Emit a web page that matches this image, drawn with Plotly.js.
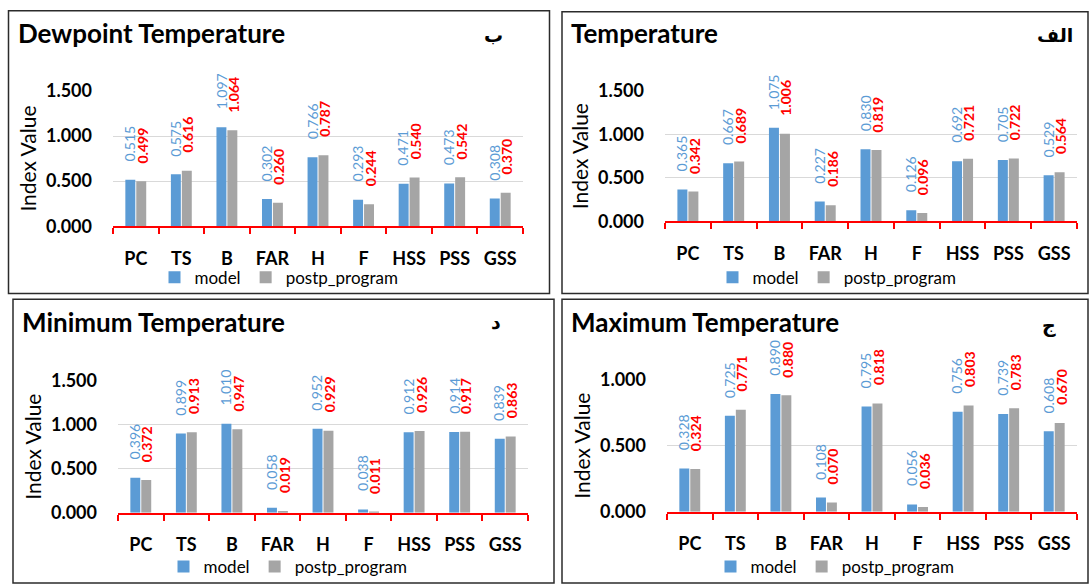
<!DOCTYPE html>
<html><head><meta charset="utf-8">
<script src="https://cdn.plot.ly/plotly-3.0.1.min.js"></script>
<style>html,body{margin:0;padding:0;background:#fff}#chart{width:1092px;height:585px}</style>
</head><body><div id="chart"></div>
<script>
// ---------- data ----------
const categories = ['PC','TS','B','FAR','H','F','HSS','PSS','GSS'];
const seriesNames = ['model','postp_program'];

const dewpointModel = [0.515,0.575,1.097,0.302,0.766,0.293,0.471,0.473,0.308];
const dewpointPost  = [0.499,0.616,1.064,0.260,0.787,0.244,0.540,0.542,0.370];

const temperatureModel = [0.365,0.667,1.075,0.227,0.830,0.126,0.692,0.705,0.529];
const temperaturePost  = [0.342,0.689,1.006,0.186,0.819,0.096,0.721,0.722,0.564];

const minTempModel = [0.396,0.899,1.010,0.058,0.952,0.038,0.912,0.914,0.839];
const minTempPost  = [0.372,0.913,0.947,0.019,0.929,0.011,0.926,0.917,0.863];

const maxTempModel = [0.328,0.725,0.890,0.108,0.795,0.056,0.756,0.739,0.608];
const maxTempPost  = [0.324,0.771,0.880,0.070,0.818,0.036,0.803,0.783,0.670];

const panelTitles  = ['Dewpoint Temperature','Temperature','Minimum Temperature','Maximum Temperature'];
const panelLetters = ['ب','الف','د','ج'];
const yAxisTitle = 'Index Value';

// ---------- layout helpers ----------
const W = 1092, H = 585;
const X = v => v / W, Y = v => 1 - v / H;
const BLUE = '#5B9BD5', GRAY = '#A5A5A5', RED = '#FF0000';
const FONT = 'Lato, "Open Sans", sans-serif';

const panels = [
  {model: dewpointModel, post: dewpointPost, ymax: 1.5,
   box: [8.5, 11, 549.5, 297], plot: [113, 523, 229, 92],
   titlePos: [16, 33], letterPos: [505, 35], legendPos: [279, 281]},
  {model: temperatureModel, post: temperaturePost, ymax: 1.5,
   box: [562, 12, 1088, 297], plot: [665, 1077, 224, 92],
   titlePos: [569, 33], letterPos: [1075, 35], legendPos: [837, 281]},
  {model: minTempModel, post: minTempPost, ymax: 1.5,
   box: [13, 303, 554, 590], plot: [118, 528, 519, 385],
   titlePos: [20, 326], letterPos: [503, 326], legendPos: [288, 574]},
  {model: maxTempModel, post: maxTempPost, ymax: 1.0,
   box: [562, 303, 1088, 590], plot: [667, 1077, 518, 384],
   titlePos: [569, 326], letterPos: [1058, 329], legendPos: [835, 574]}
];

const traces = [];
const annotations = [];
const shapes = [];
const layout = {
  width: W, height: H,
  margin: {l: 0, r: 0, t: 0, b: 0},
  paper_bgcolor: '#fff', plot_bgcolor: 'rgba(0,0,0,0)',
  barmode: 'group', bargap: 0.52, bargroupgap: 0.09,
  showlegend: true,
  font: {family: FONT, color: '#000'}
};

const boundaries = categories.map((_, i) => i - 0.5).concat([categories.length - 0.5]);

panels.forEach((p, i) => {
  const s = i === 0 ? '' : String(i + 1);
  const xa = 'xaxis' + s, ya = 'yaxis' + s, xr = 'x' + s, yr = 'y' + s;
  const leg = 'legend' + s;
  const [pl, pr, pb, pt] = p.plot;

  traces.push({type: 'bar', name: seriesNames[0], x: categories, y: p.model,
    xaxis: xr, yaxis: yr, legend: leg, marker: {color: BLUE}, hoverinfo: 'x+y+name'});
  traces.push({type: 'bar', name: seriesNames[1], x: categories, y: p.post,
    xaxis: xr, yaxis: yr, legend: leg, marker: {color: GRAY}, hoverinfo: 'x+y+name'});

  layout[xa] = {
    type: 'category', domain: [X(pl), X(pr)], anchor: yr,
    showline: true, linecolor: RED, linewidth: 2,
    ticks: 'outside', tickson: 'boundaries', ticklen: 6, tickwidth: 2, tickcolor: RED,
    showgrid: false, zeroline: false, ticklabelstandoff: 15,
    tickfont: {family: FONT, size: 18, weight: 700, color: '#000'},
    fixedrange: true
  };
  // overlay axis for the upward half of the crossing tick marks
  const ox = 'xaxis' + (i + 5);
  layout[ox] = {
    type: 'linear', overlaying: xr, anchor: yr, side: 'bottom',
    range: [-0.5, categories.length - 0.5], tickmode: 'array', tickvals: boundaries,
    ticks: 'inside', ticklen: 6, tickwidth: 2, tickcolor: RED,
    showticklabels: false, showgrid: false, zeroline: false, showline: false,
    fixedrange: true
  };
  layout[ya] = {
    domain: [Y(pb), Y(pt)], anchor: xr, range: [0, p.ymax], dtick: 0.5,
    tickformat: '.3f', showgrid: true, gridcolor: '#D9D9D9', gridwidth: 1,
    zeroline: false, showline: false, ticks: '', ticklabelstandoff: 20,
    tickfont: {family: FONT, size: 18, weight: 700, color: '#000'},
    title: {text: yAxisTitle, font: {family: FONT, size: 21, color: '#000'}, standoff: 3},
    fixedrange: true
  };
  layout[leg] = {
    x: X(p.legendPos[0]), y: Y(p.legendPos[1]), xref: 'paper', yref: 'paper',
    xanchor: 'center', yanchor: 'middle', orientation: 'h',
    font: {family: FONT, size: 17, color: '#000'}, bgcolor: 'rgba(0,0,0,0)',
    itemwidth: 30, traceorder: 'normal'
  };

  // data labels
  categories.forEach((c, j) => {
    annotations.push({xref: xr, yref: yr, x: c, y: p.model[j], text: p.model[j].toFixed(3),
      textangle: -90, showarrow: false, yanchor: 'bottom', xanchor: 'center', yshift: 16, xshift: -6,
      font: {family: FONT, size: 14, color: BLUE}});
    annotations.push({xref: xr, yref: yr, x: c, y: p.post[j], text: p.post[j].toFixed(3),
      textangle: -90, showarrow: false, yanchor: 'bottom', xanchor: 'center', yshift: 16, xshift: 6.5,
      font: {family: FONT, size: 14, color: RED, weight: 700}});
  });

  // panel title and letter
  annotations.push({xref: 'paper', yref: 'paper', x: X(p.titlePos[0]), y: Y(p.titlePos[1]),
    xanchor: 'left', yanchor: 'middle', showarrow: false, text: panelTitles[i],
    font: {family: FONT, size: 26, weight: 700, color: '#000'}});
  annotations.push({xref: 'paper', yref: 'paper', x: X(p.letterPos[0]), y: Y(p.letterPos[1]),
    xanchor: 'right', yanchor: 'middle', showarrow: false, text: panelLetters[i],
    font: {family: '"DejaVu Sans", sans-serif', size: 19, weight: 700, color: '#000'}});

  // panel border
  shapes.push({type: 'rect', xref: 'paper', yref: 'paper',
    x0: X(p.box[0]), x1: X(p.box[2]), y0: Y(p.box[3]), y1: Y(p.box[1]),
    line: {color: '#2B2B2B', width: 1.5}, layer: 'below'});
});

layout.annotations = annotations;
layout.shapes = shapes;

Plotly.newPlot('chart', traces, layout, {displayModeBar: false, responsive: false});
</script>
</body></html>
